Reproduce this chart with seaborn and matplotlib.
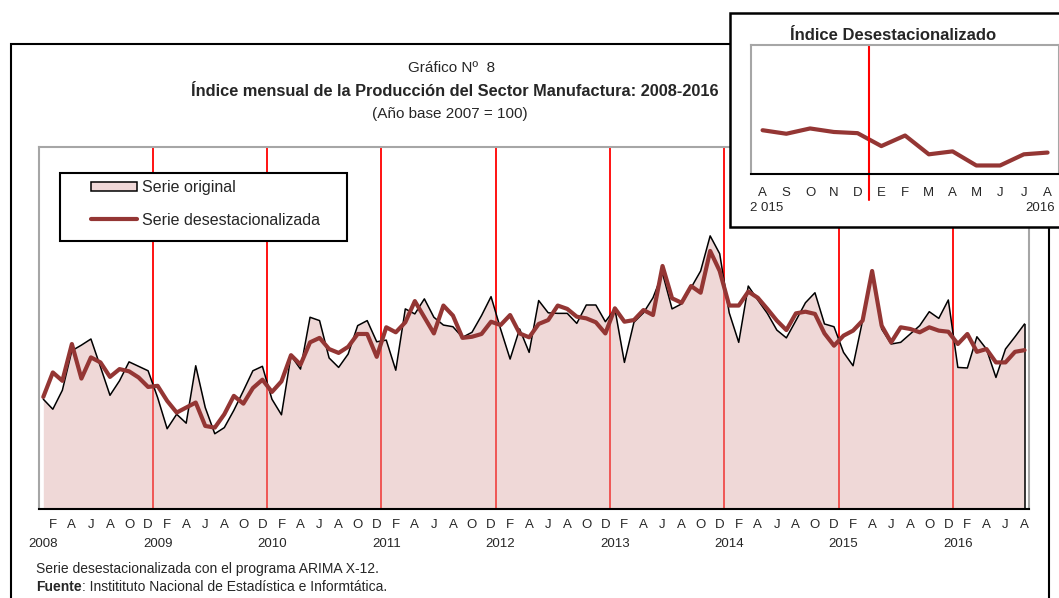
import matplotlib
matplotlib.use("Agg")
import matplotlib.pyplot as plt
from matplotlib.patches import Rectangle, Patch
from matplotlib.lines import Line2D
import numpy as np
import seaborn as sns

# monthly index, Jan 2008 .. Aug 2016 (2007 = 100)
start_year = 2008
serie_original = [
    99.7, 97.9, 101.3, 108.4, 109.4, 110.5, 105.5, 100.4, 103.0, 106.4, 105.6, 104.8,
    100.0, 94.4, 97.0, 95.4, 105.7, 98.2, 93.5, 94.6, 97.7, 101.2, 104.8, 105.6,
    99.7, 96.9, 107.5, 105.1, 114.4, 113.8, 107.1, 105.4, 107.8, 112.9, 113.8, 110.0,
    110.3, 104.9, 115.9, 115.0, 117.7, 114.4, 113.0, 112.7, 110.8, 111.7, 114.7, 118.1,
    112.3, 106.9, 112.3, 108.1, 117.4, 115.2, 115.1, 115.1, 113.3, 116.6, 116.6, 113.6,
    115.9, 106.3, 113.5, 115.2, 117.9, 122.3, 115.9, 116.8, 119.7, 122.7, 129.0, 125.8,
    115.2, 109.9, 120.0, 117.5, 115.1, 112.1, 110.7, 113.8, 117.0, 118.8, 113.2, 112.7,
    108.1, 105.7, 113.8, 122.7, 112.3, 109.6, 109.9, 111.4, 112.9, 115.4, 114.2, 117.5,
    105.4, 105.3, 110.9, 108.7, 103.6, 108.7, 110.9, 113.2,
]
serie_desest = [
    100.1, 104.5, 103.0, 109.6, 103.4, 107.2, 106.3, 103.7, 105.1, 104.7, 103.6, 101.9,
    102.1, 99.4, 97.3, 98.2, 99.1, 94.9, 94.6, 97.0, 100.3, 98.9, 101.7, 103.2,
    101.0, 102.9, 107.6, 105.9, 109.9, 110.7, 108.7, 108.0, 109.1, 111.4, 111.4, 107.3,
    112.6, 111.7, 113.5, 117.3, 114.4, 111.5, 116.5, 114.7, 110.7, 110.9, 111.4, 113.6,
    113.0, 114.8, 111.5, 110.8, 113.2, 113.9, 116.5, 115.9, 114.5, 114.2, 113.5, 111.5,
    116.0, 113.6, 113.9, 115.7, 114.8, 123.6, 117.8, 117.0, 120.0, 118.8, 126.3, 122.7,
    116.5, 116.5, 119.0, 117.9, 115.9, 113.8, 112.1, 115.1, 115.4, 115.0, 111.5, 109.3,
    111.1, 112.0, 113.8, 122.7, 112.9, 109.9, 112.6, 112.3, 111.7, 112.6, 112.0, 111.8,
    109.6, 111.4, 108.2, 108.7, 106.3, 106.3, 108.2, 108.5,
]
month_initials = ["E", "F", "M", "A", "M", "J", "J", "A", "S", "O", "N", "D"]
inset_start = 91          # Ago 2015
inset_years = ["2 015", "2016"]

RED_DARK = "#943634"
FILL = "#DDA9A8"
GRID_RED = "#FF0000"
GRAY = "#A6A6A6"
SANS = ["Liberation Sans", "DejaVu Sans"]

sns.set_style("white")
plt.rcParams["font.family"] = SANS

W, H = 1059, 598
fx = lambda px: px / W
fy = lambda py: 1 - py / H

n = len(serie_original)
x = np.arange(n)

fig = plt.figure(figsize=(W / 100, H / 100), dpi=100)
fig.add_artist(Rectangle((fx(10.5), -0.05), fx(1049) - fx(10.5), fy(44) + 0.05,
                         transform=fig.transFigure, fill=False, ec="black", lw=1.5, zorder=0))

# ---- main chart ----
ax = fig.add_axes([fx(39.3), fy(509), fx(1029.3) - fx(39.3), (509 - 146.7) / H])
ax.set_zorder(1)
ymin = 80
for k in range(11, n, 12):
    ax.axvline(k + 0.5, color=GRID_RED, lw=1.3, zorder=1)
ax.fill_between(x, serie_original, ymin, color=FILL, alpha=0.45, lw=0, zorder=2)
sns.lineplot(x=x, y=serie_original, color="black", lw=1.1, estimator=None, ax=ax, zorder=3)
ax.vlines(x[-1], ymin, serie_original[-1], color="black", lw=1.1, zorder=3)
sns.lineplot(x=x, y=serie_desest, color=RED_DARK, lw=3, estimator=None, ax=ax, zorder=4)
ax.set_xlim(-0.42, n - 0.5)
ax.set_ylim(ymin, 145)
ax.set_yticks([])
ax.set_ylabel("")
for side in ["left", "top", "right"]:
    ax.spines[side].set_color(GRAY)
    ax.spines[side].set_linewidth(1.5)
ax.spines["bottom"].set_color("black")
ax.spines["bottom"].set_linewidth(1.5)

ax.set_xticks(np.arange(5.5, n, 6))
ax.set_xticklabels([])
ax.tick_params(axis="x", which="major", direction="in", length=4, width=1.2, color="black")
odd = [i for i in x if i % 12 % 2 == 1]
ax.set_xticks(odd, labels=[month_initials[i % 12] for i in odd], minor=True)
ax.tick_params(axis="x", which="minor", length=0, pad=7, labelsize=9.5)

jan = [i for i in x if i % 12 == 0]
sec = ax.secondary_xaxis("bottom")
sec.set_xticks(jan, labels=[str(start_year + i // 12) for i in jan])
sec.tick_params(axis="x", length=0, pad=21, labelsize=9.5)
sec.spines["bottom"].set_visible(False)

# legend
ax.add_patch(Rectangle((fx(60), fy(241)), (347 - 60) / W, (241 - 173) / H,
                       transform=fig.transFigure, fc="white", ec="black", lw=1.5,
                       zorder=5, clip_on=False))
leg = ax.legend(handles=[Patch(facecolor="#F0D8D8", edgecolor="black", lw=1.1),
                         Line2D([], [], color=RED_DARK, lw=3)],
                labels=["Serie original", "Serie desestacionalizada"],
                loc="upper left", bbox_to_anchor=(fx(91), fy(180)),
                bbox_transform=fig.transFigure, frameon=False, borderpad=0,
                borderaxespad=0, handlelength=2.9, handleheight=0.55,
                handletextpad=0.3, labelspacing=1.1, prop={"size": 11.5})
leg.set_zorder(6)

# titles
fig.text(fx(452), fy(68), "Gráfico Nº  8", ha="center", va="center", fontsize=11)
fig.text(fx(455), fy(92), "Índice mensual de la Producción del Sector Manufactura: 2008-2016",
         ha="center", va="center", fontsize=11.8, fontweight="bold")
fig.text(fx(450), fy(114), "(Año base 2007 = 100)", ha="center", va="center", fontsize=11)

# footnotes
fig.text(fx(36), fy(569), "Serie desestacionalizada con el programa ARIMA X-12.",
         ha="left", va="center", fontsize=10)
t1 = fig.text(fx(36), fy(587), "Fuente", ha="left", va="center", fontsize=10,
              fontweight="bold")
ax.annotate(": Institituto Nacional de Estadística e Informtática.", xy=(1, 0),
            xycoords=t1, va="bottom", ha="left", fontsize=10, annotation_clip=False)

# ---- inset ----
fig.add_artist(Rectangle((fx(730), fy(227)), 0.05 + (W - 730) / W, (227 - 13) / H,
                         transform=fig.transFigure, fc="white", ec="black", lw=1.8, zorder=2))
axi = fig.add_axes([fx(750.7), fy(174.3), 308.75 / W, (174.3 - 45) / H])
axi.set_zorder(3)
xi = np.arange(n - inset_start)
sns.lineplot(x=xi, y=serie_desest[inset_start:], color=RED_DARK, lw=3, estimator=None, ax=axi)
axi.axvline(4.5, ymin=-0.2, ymax=1, color=GRID_RED, lw=1.5, clip_on=False)
axi.set_xlim(-0.5, len(xi) - 0.5)
axi.set_ylim(104.8, 126.8)
axi.set_yticks([])
axi.set_ylabel("")
for side in ["left", "top", "right"]:
    axi.spines[side].set_color(GRAY)
    axi.spines[side].set_linewidth(1.5)
axi.spines["bottom"].set_color("black")
axi.spines["bottom"].set_linewidth(1.5)
axi.set_xticks(np.arange(-0.5, len(xi), 1))
axi.set_xticklabels([])
axi.tick_params(axis="x", which="major", direction="out", length=5, width=1.2, color="black")
axi.set_xticks(xi, labels=[month_initials[(inset_start + k) % 12] for k in xi], minor=True)
axi.tick_params(axis="x", which="minor", length=0, pad=9, labelsize=9.5)
seci = axi.secondary_xaxis("bottom")
seci.set_xticks([0.15, len(xi) - 1.3], labels=inset_years)
seci.tick_params(axis="x", length=0, pad=20, labelsize=9.5)
seci.spines["bottom"].set_visible(False)
fig.text(fx(893), fy(35), "Índice Desestacionalizado", ha="center", va="center",
         fontsize=12, fontweight="bold", zorder=4)

fig.savefig("out.png", dpi=100)
